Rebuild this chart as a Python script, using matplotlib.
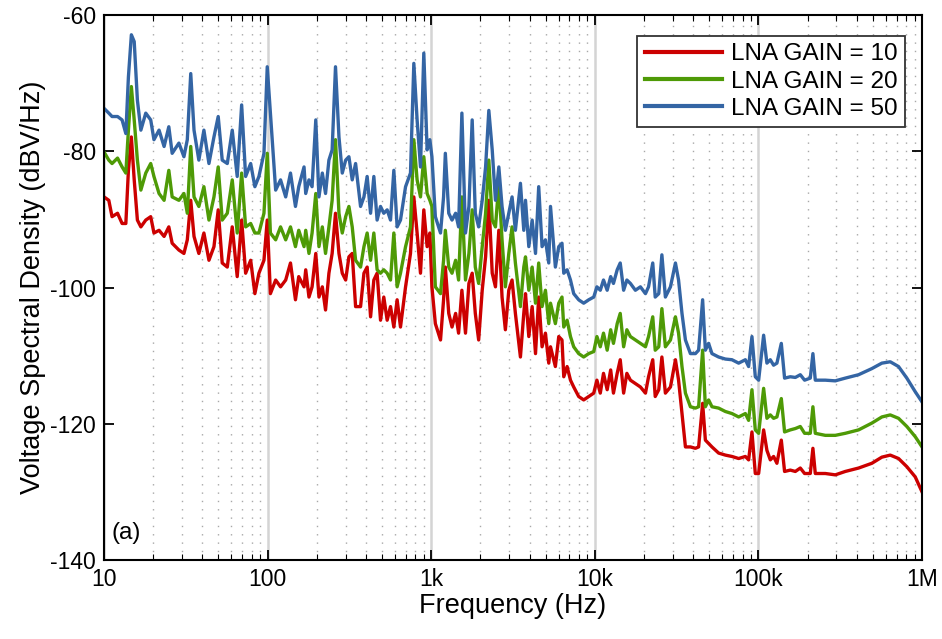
import matplotlib
matplotlib.use("Agg")
from matplotlib import pyplot as plt
from matplotlib.ticker import FixedLocator, LogLocator, NullFormatter

plt.rcParams['font.family'] = ['Liberation Sans', 'DejaVu Sans']
plt.rcParams['axes.unicode_minus'] = False

# частоты (Гц), общие для всех трёх кривых
freq = [10.0, 10.7, 11.2, 12.1, 12.9, 13.6, 14.1, 14.7, 15.3, 16.0,
        16.8, 18.0, 19.3, 20.2, 21.7, 23.3, 24.9, 26.1, 28.7, 30.8,
        32.3, 33.9, 35.5, 38.0, 40.8, 43.8, 47.0, 49.9, 52.8, 56.7,
        60.8, 65.2, 69.4, 73.4, 78.8, 83.6, 88.5, 95.0, 99.5, 104,
        112, 120, 129, 138, 148, 155, 167, 171, 179, 187,
        197, 206, 216, 226, 237, 248, 260, 273, 286, 300,
        314, 329, 345, 370, 388, 406, 426, 446, 467, 490,
        513, 538, 564, 591, 619, 649, 697, 747, 783, 820,
        860, 901, 944, 981, 1010, 1060, 1140, 1190, 1220, 1280,
        1340, 1410, 1470, 1540, 1620, 1700, 1780, 1860, 1950, 2050,
        2150, 2250, 2360, 2470, 2590, 2710, 2840, 2980, 3120, 3270,
        3510, 3680, 3770, 3950, 4140, 4340, 4540, 4760, 4990, 5230,
        5360, 5740, 6020, 6300, 6460, 6770, 7100, 7430, 7970, 8550,
        9180, 9850, 10300, 10800, 11300, 11900, 12500, 13000, 13700, 14300,
        15000, 15700, 16500, 17700, 19000, 20400, 21300, 22600, 23400, 24600,
        25700, 27000, 29000, 31100, 32500, 34100, 35800, 38400, 41200, 43100,
        45600, 47400, 49600, 52000, 57100, 62800, 68900, 75700, 83200, 87100,
        91300, 95700, 100300, 107600, 112700, 118200, 123800, 129700, 138000, 144500,
        156600, 168100, 180300, 191500, 207500, 215300, 222600, 256300, 295000, 339500,
        409400, 493600, 568200, 639300, 718500, 807500, 908900, 1000000]

gain10 = [-86.7, -87.2, -89.6, -89.1, -90.6, -90.6, -82.8, -77.9, -84.2, -90.1,
          -91.1, -90.1, -89.6, -92.0, -91.6, -92.5, -91.1, -93.5, -94.5, -95.0,
          -93.0, -87.2, -92.5, -95.0, -92.0, -96.0, -94.0, -88.6, -96.4, -97.0,
          -91.1, -98.4, -90.1, -97.9, -96.0, -100.9, -97.9, -96.0, -90.1, -100.9,
          -98.9, -99.9, -98.9, -96.4, -101.8, -98.4, -99.9, -97.4, -101.4, -99.9,
          -95.0, -101.4, -99.9, -103.3, -97.9, -95.0, -89.1, -95.0, -97.9, -98.9,
          -95.5, -95.0, -102.8, -102.8, -97.9, -97.0, -104.3, -98.9, -97.9, -104.8,
          -101.4, -104.8, -102.8, -105.8, -101.8, -105.8, -99.9, -95.0, -86.7, -92.0,
          -97.9, -88.6, -94.0, -92.0, -99.9, -105.3, -107.7, -101.8, -97.0, -103.8,
          -105.8, -103.8, -106.7, -100.4, -106.7, -99.4, -97.9, -103.8, -107.7, -100.4,
          -95.5, -87.2, -97.9, -99.9, -91.6, -101.4, -106.2, -100.4, -98.9, -103.8,
          -110.2, -103.8, -100.9, -107.2, -102.8, -109.7, -101.4, -108.7, -106.7, -111.1,
          -108.7, -111.6, -107.2, -107.7, -113.1, -111.6, -113.6, -114.6, -116.0, -116.5,
          -116.0, -115.5, -113.6, -115.5, -112.6, -115.0, -112.1, -115.5, -112.6, -110.6,
          -115.5, -112.6, -113.6, -114.1, -114.6, -115.5, -113.1, -110.6, -116.0, -115.0,
          -110.2, -115.5, -114.6, -110.6, -113.6, -118.5, -123.4, -123.4, -123.6, -123.4,
          -117.0, -122.4, -122.9, -123.4, -124.3, -124.6, -124.8, -125.1, -124.8, -125.3,
          -121.2, -127.3, -127.3, -120.9, -123.9, -125.3, -124.8, -125.8, -122.4, -127.0,
          -126.8, -127.0, -126.5, -127.3, -127.3, -123.6, -127.3, -127.3, -127.5, -127.0,
          -126.5, -125.8, -124.9, -124.6, -125.1, -126.3, -127.8, -130.0]

gain20 = [-80.1, -81.3, -81.8, -81.0, -82.3, -83.2, -76.9, -70.5, -75.4, -81.3,
          -85.7, -83.2, -81.8, -83.7, -86.2, -87.2, -82.8, -86.7, -87.2, -86.2,
          -89.1, -79.3, -86.7, -88.1, -85.2, -90.1, -86.7, -82.3, -90.1, -89.1,
          -84.2, -92.0, -83.2, -91.1, -90.6, -92.0, -92.0, -89.1, -80.3, -92.0,
          -93.0, -91.1, -93.0, -91.1, -94.0, -91.6, -94.0, -91.6, -95.0, -92.0,
          -86.2, -94.0, -91.1, -95.0, -91.1, -87.2, -78.3, -89.1, -92.0, -89.6,
          -88.1, -91.1, -96.0, -97.0, -94.0, -92.0, -96.0, -92.0, -97.4, -97.9,
          -97.4, -97.9, -98.9, -92.0, -99.9, -97.9, -94.0, -91.1, -78.3, -84.2,
          -86.7, -80.8, -86.2, -87.2, -88.1, -99.9, -100.9, -96.0, -91.6, -97.0,
          -97.9, -96.0, -98.9, -86.7, -98.9, -95.0, -88.6, -97.0, -99.4, -94.0,
          -89.1, -81.3, -90.1, -91.1, -84.7, -93.0, -99.9, -95.0, -91.1, -96.4,
          -102.8, -97.0, -95.5, -100.4, -97.0, -102.3, -96.4, -102.8, -100.4, -105.3,
          -102.3, -105.3, -102.3, -101.4, -105.8, -104.8, -107.2, -108.7, -109.7, -110.2,
          -109.7, -109.4, -107.2, -108.7, -106.7, -109.2, -106.2, -108.2, -105.3, -103.8,
          -108.7, -106.2, -107.2, -107.7, -108.2, -108.7, -107.2, -104.3, -109.2, -108.7,
          -103.1, -108.7, -107.7, -104.3, -106.7, -111.6, -115.5, -117.5, -117.7, -117.5,
          -109.2, -117.5, -116.5, -117.5, -117.7, -118.2, -118.5, -119.0, -118.5, -119.5,
          -115.0, -120.9, -121.4, -114.8, -119.2, -118.7, -119.2, -119.0, -116.3, -121.2,
          -120.9, -120.7, -120.4, -121.4, -121.4, -117.5, -121.4, -121.7, -121.7, -121.4,
          -120.9, -119.9, -119.0, -118.7, -119.2, -120.4, -121.9, -123.4]

gain50 = [-73.7, -74.4, -74.9, -74.9, -75.4, -77.4, -69.1, -62.9, -63.9, -72.5,
          -76.9, -74.4, -75.4, -78.3, -76.9, -79.3, -76.4, -80.3, -78.8, -80.8,
          -78.3, -68.6, -76.9, -81.3, -76.9, -81.8, -77.9, -74.9, -81.3, -81.8,
          -76.9, -83.7, -73.2, -83.7, -81.8, -85.2, -83.7, -80.3, -67.6, -74.4,
          -85.7, -84.2, -86.7, -83.2, -88.1, -85.2, -82.3, -86.2, -84.2, -85.2,
          -75.4, -86.7, -83.2, -86.2, -81.3, -79.8, -67.6, -77.9, -83.2, -81.3,
          -80.8, -84.2, -81.8, -88.1, -86.7, -83.7, -89.1, -83.7, -90.1, -88.1,
          -89.1, -88.6, -90.1, -82.8, -91.1, -90.1, -85.2, -83.2, -67.1, -75.4,
          -82.3, -65.6, -79.8, -78.3, -80.8, -89.6, -92.0, -86.7, -80.3, -89.1,
          -90.1, -89.1, -91.1, -74.4, -92.0, -88.1, -75.4, -89.1, -91.1, -87.2,
          -82.3, -74.0, -79.8, -87.2, -82.3, -88.1, -91.6, -89.1, -86.7, -91.6,
          -84.7, -91.6, -87.2, -94.0, -90.1, -95.0, -85.2, -94.0, -93.0, -96.4,
          -88.1, -97.0, -94.0, -93.5, -97.9, -97.4, -98.9, -100.9, -101.8, -102.3,
          -101.8, -101.4, -99.9, -100.4, -98.9, -100.4, -98.4, -99.4, -97.4, -96.4,
          -100.4, -98.9, -99.4, -100.4, -99.9, -100.9, -99.9, -96.4, -101.4, -100.9,
          -95.2, -101.4, -99.9, -96.4, -98.9, -103.8, -107.7, -109.7, -109.7, -109.2,
          -101.8, -109.2, -108.2, -109.7, -110.2, -110.5, -110.6, -111.1, -110.6, -111.6,
          -107.2, -113.1, -113.6, -107.0, -111.1, -110.6, -111.4, -111.1, -108.2, -113.3,
          -113.1, -113.2, -112.8, -113.6, -113.3, -109.7, -113.6, -113.6, -113.7, -113.3,
          -112.8, -111.9, -111.1, -110.9, -111.6, -113.3, -115.3, -116.8]

series = [(gain10, '#cc0000', 'LNA GAIN = 10'),
          (gain20, '#4e9a06', 'LNA GAIN = 20'),
          (gain50, '#3465a4', 'LNA GAIN = 50')]

fig = plt.figure(figsize=(9.42, 6.39), dpi=100)
ax = fig.add_axes([0.1104, 0.1236, 0.8684, 0.8529])

for vals, col, lab in series:
    ax.plot(freq, vals, color=col, lw=2.4, label=lab)

ax.set_xscale('log')
ax.set_xlim(10, 1e6)
ax.set_ylim(-140, -60)

ax.xaxis.set_major_locator(FixedLocator([10, 100, 1e3, 1e4, 1e5, 1e6]))
ax.set_xticklabels(['10', '100', '1k', '10k', '100k', '1M'])
ax.xaxis.set_minor_locator(LogLocator(base=10, subs=range(2, 10), numticks=20))
ax.xaxis.set_minor_formatter(NullFormatter())
ax.set_yticks([-140, -120, -100, -80, -60])

ax.grid(True, which='major', axis='x', color='#d4d4d4', lw=1.8, ls='-')
ax.grid(True, which='minor', axis='x', color='#a8a8a8', lw=1.0, ls=(0, (1, 5)))
ax.set_axisbelow(True)

ax.tick_params(which='major', direction='in', length=7, width=1.3,
               top=True, right=True, labelsize=16.5, pad=6)
ax.tick_params(which='minor', direction='in', length=4, width=0.8,
               top=True, right=True)
for sp in ax.spines.values():
    sp.set_linewidth(1.5)
    sp.set_color('black')

ax.set_xlabel('Frequency (Hz)', fontsize=19.5, labelpad=1)
ax.set_ylabel('Voltage Spectral Density (dBV/Hz)', fontsize=19.5, labelpad=3)

leg = ax.legend(loc='upper right', bbox_to_anchor=(0.988, 0.975), fontsize=17.5,
                handlelength=3.2, handletextpad=0.35, borderpad=0.3,
                labelspacing=0.22, borderaxespad=0.3, fancybox=False, framealpha=1)
leg.get_frame().set_edgecolor('#333333')
leg.get_frame().set_linewidth(1.3)
for ln in leg.get_lines():
    ln.set_linewidth(3.0)

ax.text(0.009, 0.05, '(a)', transform=ax.transAxes, fontsize=17.5, va='center', ha='left')

fig.savefig('out.png', dpi=100)
